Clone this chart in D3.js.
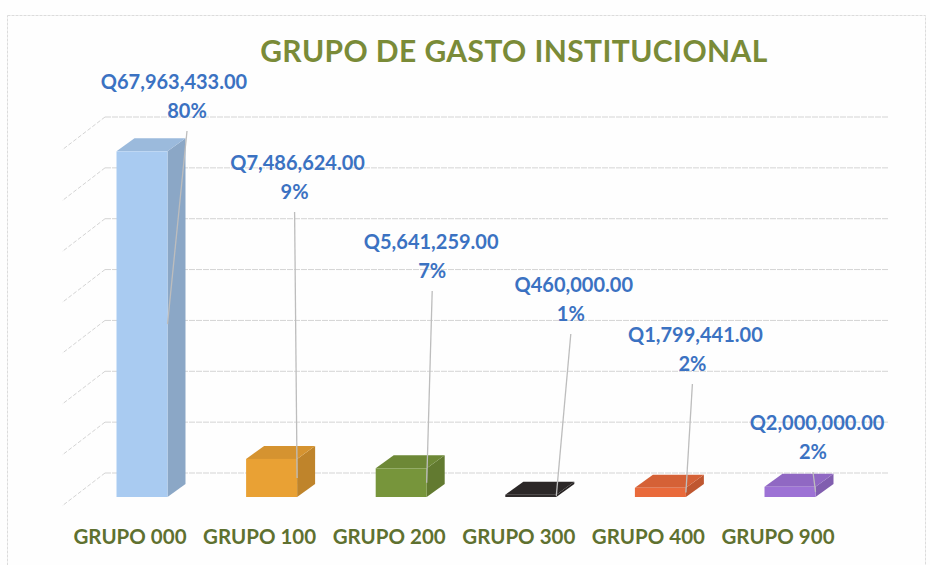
<!DOCTYPE html>
<html><head><meta charset="utf-8">
<script src="https://cdn.jsdelivr.net/npm/d3@7"></script>
<style>body{margin:0;background:#fff}svg{display:block}</style></head>
<body><svg id="c" width="930" height="565"></svg>
<script>
// ---- data ----
const categories = ["GRUPO 000","GRUPO 100","GRUPO 200","GRUPO 300","GRUPO 400","GRUPO 900"];
const values = [67963433, 7486624, 5641259, 460000, 1799441, 2000000];
const barColors = ["#a9cbf1","#e9a134","#77953b","#2f2b2b","#e96a3b","#9d72d5"];
const yTicks = [0,10000000,20000000,30000000,40000000,50000000,60000000,70000000];
const title = "GRUPO DE GASTO INSTITUCIONAL";

// ---- layout (label placement, pixels) ----
const valueLabelDx = [32,26,30,43,35,27];
const pctLabelDx   = [45,23,31,40,32,23];
const valueLabelY  = [89,170,249,292,342,430];

const svg = d3.select("#c");
const W = 930, H = 565;
svg.append("rect").attr("width",W).attr("height",H).attr("fill","#fefefe");
svg.append("rect").attr("x",7.5).attr("y",15.5).attr("width",W-12).attr("height",H-10)
  .attr("fill","none").attr("stroke","#dcdcdc").attr("stroke-width",1).attr("stroke-dasharray","3,1");

const total = d3.sum(values);
const depth = {dx:18, dy:-13};

// wall scale (back) and bar scale (front)
const wallY = d3.scaleLinear().domain([0,70000000]).range([473,117]);
const barY  = d3.scaleLinear().domain([0,70000000]).range([497,141]);
const xc = d3.scalePoint().domain(categories).range([142,790]);
const barW = 51;

// wall gridlines
const wallLeft = 105, wallRight = 888, sideDx = -43, sideDy = 33;
const grid = svg.append("g");
yTicks.forEach(t=>{
  const y = wallY(t);
  grid.append("line").attr("x1",wallLeft).attr("x2",wallRight).attr("y1",y).attr("y2",y)
    .attr("stroke","#d4d4d4").attr("stroke-width",1).attr("stroke-dasharray","6,1");
  grid.append("line").attr("x1",wallLeft).attr("x2",wallLeft+sideDx).attr("y1",y).attr("y2",y+sideDy)
    .attr("stroke","#d4d4d4").attr("stroke-width",1).attr("stroke-dasharray","4,2");
});

// bars
const bars = svg.append("g");
categories.forEach((c,i)=>{
  const v = values[i];
  const x0 = xc(c) - barW/2, x1 = x0 + barW;
  const yb = barY(0), yt = barY(v);
  const col = d3.color(barColors[i]);
  const side = col.darker(0.55), top = col.darker(0.25);
  const g = bars.append("g");
  g.append("path").attr("d",`M${x1},${yt}L${x1+depth.dx},${yt+depth.dy}L${x1+depth.dx},${yb+depth.dy}L${x1},${yb}Z`).attr("fill",side);
  g.append("path").attr("d",`M${x0},${yt}L${x0+depth.dx},${yt+depth.dy}L${x1+depth.dx},${yt+depth.dy}L${x1},${yt}Z`).attr("fill",top);
  g.append("rect").attr("x",x0).attr("y",yt).attr("width",barW).attr("height",Math.max(0.8,yb-yt)).attr("fill",col);
});

// leader lines + labels
const fmt = d3.format(",.2f");
const lab = svg.append("g").attr("font-family","Lato, 'Open Sans', sans-serif").attr("font-weight","700")
  .attr("fill","#3b72c2").attr("text-anchor","middle").attr("font-size","20px");
categories.forEach((c,i)=>{
  const v = values[i];
  const cx = xc(c);
  const y0 = valueLabelY[i];
  const px = cx + pctLabelDx[i];
  const x1 = cx + barW/2, ym = (barY(0)+barY(v))/2;
  svg.append("line").attr("x1",px).attr("y1",y0+42).attr("x2",x1).attr("y2",ym)
    .attr("stroke","#bdbdbd").attr("stroke-width",1.3);
  lab.append("text").attr("x",cx+valueLabelDx[i]).attr("y",y0).text("Q"+fmt(v));
  lab.append("text").attr("x",px).attr("y",y0+29).text(Math.round(v/total*100)+"%");
});

// category labels
svg.append("g").selectAll("text").data(categories).join("text")
  .attr("x",d=>xc(d)-12).attr("y",544).attr("text-anchor","middle")
  .attr("font-family","Lato, 'Open Sans', sans-serif").attr("font-weight","700").attr("font-size","20.5px")
  .attr("fill","#5f7130").text(d=>d);

// title
svg.append("text").attr("x",514).attr("y",62).attr("text-anchor","middle")
  .attr("font-family","Lato, 'Open Sans', sans-serif").attr("font-weight","700").attr("font-size","30px")
  .attr("letter-spacing","0.4px")
  .attr("fill","#7a8b38").text(title);
</script></body></html>
